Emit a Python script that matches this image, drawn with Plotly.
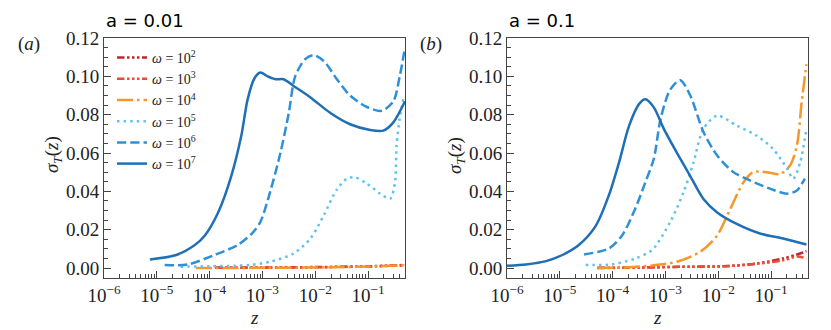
import plotly.graph_objects as go

# ---- data ----
omega_labels = ["<i>ω</i> = 10<sup>2</sup>", "<i>ω</i> = 10<sup>3</sup>", "<i>ω</i> = 10<sup>4</sup>",
                "<i>ω</i> = 10<sup>5</sup>", "<i>ω</i> = 10<sup>6</sup>", "<i>ω</i> = 10<sup>7</sup>"]

# panel (a): a = 0.01
za_w2 = [1.26e-4, 1.0e-3, 1.0e-2, 0.1, 0.501]
sa_w2 = [0.0003, 0.0003, 0.0005, 0.0009, 0.0016]
za_w3 = [1.26e-4, 1.0e-3, 1.0e-2, 0.1, 0.501]
sa_w3 = [0.0002, 0.0002, 0.0004, 0.0008, 0.0014]
za_w4 = [5.5e-5, 1.0e-3, 1.0e-2, 0.1, 0.501]
sa_w4 = [0.0000, 0.0001, 0.0003, 0.0008, 0.0015]
za_w5 = [2.82e-5, 1.0e-4, 3.16e-4, 5.9e-4, 1.41e-3, 3.89e-3, 8.13e-3, 1.45e-2,
         2.57e-2, 3.98e-2, 5.62e-2, 9.55e-2, 0.170, 0.263, 0.324, 0.347, 0.398, 0.479]
sa_w5 = [0.0007, 0.0009, 0.0012, 0.0016, 0.0033, 0.0076, 0.0154, 0.0275,
         0.041, 0.0466, 0.0474, 0.044, 0.0388, 0.0362, 0.0448, 0.064, 0.078, 0.090]
za_w6 = [1.41e-5, 3.89e-5, 1.23e-4, 3.39e-4, 6.31e-4, 9.12e-4, 1.41e-3, 2.19e-3,
         3.16e-3, 4.17e-3, 6.46e-3, 9.33e-3, 1.45e-2, 2.57e-2, 4.57e-2, 9.55e-2,
         0.182, 0.302, 0.398, 0.501]
sa_w6 = [0.0016, 0.0019, 0.0068, 0.012, 0.018, 0.024, 0.040, 0.060,
         0.081, 0.100, 0.109, 0.111, 0.108, 0.0985, 0.090, 0.084,
         0.082, 0.087, 0.100, 0.115]
za_w7 = [7.41e-6, 2.34e-5, 5.25e-5, 8.13e-5, 1.45e-4, 2.57e-4, 3.98e-4, 5.25e-4,
         7.08e-4, 9.12e-4, 1.26e-3, 1.78e-3, 2.51e-3, 3.89e-3, 8.13e-3, 1.91e-2,
         4.57e-2, 0.110, 0.195, 0.302, 0.501]
sa_w7 = [0.0045, 0.0068, 0.012, 0.017, 0.029, 0.048, 0.069, 0.088,
         0.099, 0.102, 0.100, 0.0985, 0.0985, 0.095, 0.089, 0.081,
         0.075, 0.072, 0.0717, 0.076, 0.087]

# panel (b): a = 0.1
zb_w2 = [5.13e-5, 3.16e-4, 2.95e-3, 1.26e-2, 5.37e-2, 0.170, 0.355, 0.468]
sb_w2 = [0.0001, 0.0003, 0.0007, 0.0009, 0.0024, 0.0050, 0.0076, 0.0088]
zb_w3 = [5.13e-5, 3.16e-4, 2.95e-3, 1.26e-2, 5.37e-2, 0.170, 0.316, 0.468]
sb_w3 = [0.0000, 0.0002, 0.0007, 0.0009, 0.0022, 0.0040, 0.0060, 0.0050]
zb_w4 = [5.13e-5, 1.58e-4, 5.25e-4, 1.66e-3, 4.57e-3, 9.55e-3, 1.70e-2, 3.02e-2,
         4.57e-2, 8.32e-2, 0.148, 0.229, 0.309, 0.380, 0.468]
sb_w4 = [0.0000, 0.0003, 0.0012, 0.0033, 0.0085, 0.017, 0.031, 0.0448,
         0.050, 0.050, 0.049, 0.0535, 0.064, 0.0864, 0.1063]
zb_w5 = [3.09e-5, 9.77e-5, 2.69e-4, 5.62e-4, 1.23e-3, 2.24e-3, 3.39e-3, 5.25e-3,
         9.55e-3, 2.24e-2, 5.37e-2, 0.110, 0.200, 0.263, 0.355, 0.468]
sb_w5 = [0.0016, 0.0019, 0.005, 0.0095, 0.024, 0.040, 0.055, 0.0726,
         0.0795, 0.0743, 0.069, 0.062, 0.052, 0.0466, 0.055, 0.0726]
zb_w6 = [2.88e-5, 8.51e-5, 1.51e-4, 2.69e-4, 4.17e-4, 6.03e-4, 8.13e-4, 1.23e-3,
         1.91e-3, 2.95e-3, 5.25e-3, 9.55e-3, 1.95e-2, 3.98e-2, 9.55e-2, 0.200,
         0.309, 0.437]
sb_w6 = [0.0071, 0.0102, 0.017, 0.031, 0.0448, 0.057, 0.078, 0.093,
         0.098, 0.090, 0.071, 0.0587, 0.050, 0.0457, 0.0414, 0.0388,
         0.0405, 0.0466]
zb_w7 = [1.0e-6, 2.29e-6, 5.5e-6, 1.12e-5, 2.29e-5, 4.79e-5, 8.51e-5, 1.32e-4,
         2.04e-4, 3.16e-4, 4.17e-4, 6.03e-4, 9.33e-4, 1.66e-3, 2.95e-3, 5.25e-3,
         9.55e-3, 2.24e-2, 6.17e-2, 0.170, 0.468]
sb_w7 = [0.0012, 0.0019, 0.0036, 0.0068, 0.012, 0.022, 0.038, 0.055,
         0.074, 0.0855, 0.088, 0.0838, 0.0726, 0.060, 0.048, 0.036,
         0.029, 0.023, 0.018, 0.0154, 0.0123]

x_tickvals = [1e-6, 1e-5, 1e-4, 1e-3, 1e-2, 1e-1]
x_ticktext = ["10<sup>−6</sup>", "10<sup>−5</sup>", "10<sup>−4</sup>",
              "10<sup>−3</sup>", "10<sup>−2</sup>", "10<sup>−1</sup>"]
x_minor = [m * 10.0 ** e for e in range(-6, 0) for m in range(2, 10)]
y_tickvals = [0.0, 0.02, 0.04, 0.06, 0.08, 0.10, 0.12]

colors = ["#c0272d", "#ee4b37", "#f7962b", "#5ec3ee", "#2f90d6", "#1f6fb6"]
lw = 2.5
dashes = ["7.5px,2.5px,2.5px,2.5px,2.5px,2.5px,2.5px,2.5px",
          "7.5px,2.5px,2.5px,2.5px,2.5px,2.5px,2.5px,2.5px",
          "16px,4px,2.5px,4px",
          "2.5px,4.1px",
          "9.25px,4px",
          "solid"]

panel_a = [(za_w2, sa_w2), (za_w3, sa_w3), (za_w4, sa_w4),
           (za_w5, sa_w5), (za_w6, sa_w6), (za_w7, sa_w7)]
panel_b = [(zb_w2, sb_w2), (zb_w3, sb_w3), (zb_w4, sb_w4),
           (zb_w5, sb_w5), (zb_w6, sb_w6), (zb_w7, sb_w7)]

fig = go.Figure()

for i, (z, s) in enumerate(panel_a):
    fig.add_trace(go.Scatter(
        x=z, y=s, mode="lines", name=omega_labels[i],
        line=dict(color=colors[i], width=lw, dash=dashes[i], shape="spline", smoothing=0.8),
        xaxis="x", yaxis="y", showlegend=True
    ))

for i, (z, s) in enumerate(panel_b):
    fig.add_trace(go.Scatter(
        x=z, y=s, mode="lines", name=omega_labels[i],
        line=dict(color=colors[i], width=lw, dash=dashes[i], shape="spline", smoothing=0.8),
        xaxis="x2", yaxis="y2", showlegend=False
    ))

W, H = 831, 330
OFF = 8  # page body margin in the browser


def px(x):
    return (x - OFF) / W


def py(y):
    return 1 - (y - OFF) / H


serif = "Liberation Serif, DejaVu Serif, serif"
sans = "DejaVu Sans"
tick_font = dict(family=serif, size=19, color="#222")
spine = "#444"


def xaxis_style(domain, anchor):
    return dict(
        domain=domain, anchor=anchor, type="log", range=[-6, -0.3],
        tickmode="array", tickvals=x_tickvals, ticktext=x_ticktext,
        ticks="inside", ticklen=7, tickwidth=1, tickcolor=spine,
        minor=dict(tickmode="array", tickvals=x_minor, ticks="inside",
                   ticklen=4, tickwidth=1, tickcolor=spine),
        showline=True, linecolor=spine, linewidth=1, mirror=True,
        showgrid=False, zeroline=False, tickfont=tick_font, automargin=False,
    )


def yaxis_style(anchor):
    return dict(
        domain=[py(278), py(38)], anchor=anchor, range=[-0.0052, 0.12],
        tickmode="array", tickvals=y_tickvals, tickformat=".2f",
        ticks="inside", ticklen=7, tickwidth=1, tickcolor=spine,
        minor=dict(dtick=0.005, tick0=0, ticks="inside", ticklen=4,
                   tickwidth=1, tickcolor=spine),
        showline=True, linecolor=spine, linewidth=1, mirror=True,
        showgrid=False, zeroline=False, tickfont=tick_font, automargin=False,
    )


fig.update_layout(
    width=W, height=H,
    margin=dict(l=0, r=0, t=0, b=0, autoexpand=False),
    paper_bgcolor="white", plot_bgcolor="white",
    xaxis=xaxis_style([px(104), px(405)], "y"),
    yaxis=yaxis_style("x"),
    xaxis2=xaxis_style([px(507), px(808)], "y2"),
    yaxis2=yaxis_style("x2"),
    legend=dict(
        x=px(112), y=py(42), xanchor="left", yanchor="top",
        bgcolor="rgba(0,0,0,0)", borderwidth=0,
        font=dict(family=serif, size=14, color="#222"),
        itemwidth=30, tracegroupgap=0,
    ),
)

annots = [
    dict(text="a = 0.01", x=px(104), y=py(33), xanchor="left", yanchor="bottom",
         font=dict(family=sans, size=18, color="black")),
    dict(text="a = 0.1", x=px(507), y=py(33), xanchor="left", yanchor="bottom",
         font=dict(family=sans, size=18, color="black")),
    dict(text="(<i>a</i>)", x=px(29), y=py(44), xanchor="center", yanchor="middle",
         font=dict(family=serif, size=19, color="#222")),
    dict(text="(<i>b</i>)", x=px(431), y=py(44), xanchor="center", yanchor="middle",
         font=dict(family=serif, size=19, color="#222")),
    dict(text="<i>σ<sub>T</sub></i>(<i>z</i>)", x=px(53), y=py(155), textangle=-90,
         xanchor="center", yanchor="middle", font=dict(family=serif, size=19, color="#222")),
    dict(text="<i>σ<sub>T</sub></i>(<i>z</i>)", x=px(456), y=py(155), textangle=-90,
         xanchor="center", yanchor="middle", font=dict(family=serif, size=19, color="#222")),
    dict(text="<i>z</i>", x=px(254), y=py(317), xanchor="center", yanchor="middle",
         font=dict(family=serif, size=19, color="#222")),
    dict(text="<i>z</i>", x=px(657), y=py(317), xanchor="center", yanchor="middle",
         font=dict(family=serif, size=19, color="#222")),
]
for a in annots:
    fig.add_annotation(xref="paper", yref="paper", showarrow=False, **a)

fig.write_html("out.html")
